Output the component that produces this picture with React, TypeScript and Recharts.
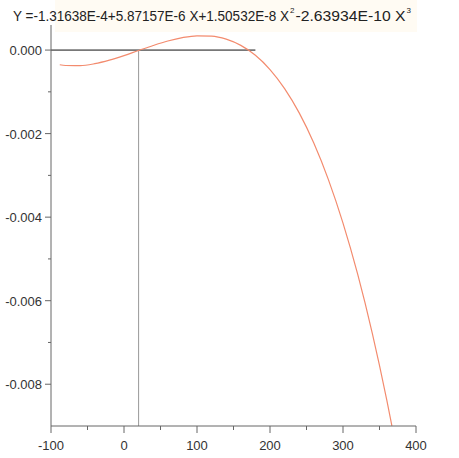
import React from "react";
import { LineChart, Line, XAxis, YAxis, ReferenceLine } from "recharts";

// points
const xValues = [-88, -80, -60, -40, -20, 0, 20, 40, 60, 80, 100, 120, 140, 160, 180, 200, 220, 240, 260, 280, 300, 320, 340, 360, 367];
const yValues = [
  -0.000352, -0.00037, -0.000373, -0.000326, -0.000241, -0.000132, -0.0000103, 0.00011, 0.000218, 0.000299,
  0.000342, 0.000334, 0.000261, 0.000112, -0.000126, -0.000467, -0.000922, -0.001504, -0.002226, -0.003101,
  -0.004142, -0.00536, -0.006769, -0.008381, -0.008996,
];

const xTicks = [-100, -50, 0, 50, 100, 150, 200, 250, 300, 350, 400];
const xLabelled = [-100, 0, 100, 200, 300, 400];
const yTicks = [0, -0.001, -0.002, -0.003, -0.004, -0.005, -0.006, -0.007, -0.008];
const yLabelled = [0, -0.002, -0.004, -0.006, -0.008];

const hLineSegment = [{ x: -100, y: 0 }, { x: 180, y: 0 }];
const vLineSegment = [{ x: 20, y: 0 }, { x: 20, y: -0.009 }];

const data = xValues.map((x, i) => ({ x, y: yValues[i] }));

const axisColor = "#666";
const font = "'Liberation Sans', Arial, sans-serif";

function XTick(props: any) {
  const { x, y, payload } = props;
  const major = xLabelled.includes(payload.value);
  return (
    <g>
      <line x1={x} x2={x} y1={y} y2={y + (major ? 7 : 4)} stroke={axisColor} strokeWidth={1} />
      {major && (
        <text x={x} y={y + 24} textAnchor="middle" fontSize={13} fill="#333" fontFamily={font}>
          {payload.value}
        </text>
      )}
    </g>
  );
}

function YTick(props: any) {
  const { x, y, payload } = props;
  const v = Math.round(payload.value * 1e6) / 1e6;
  const major = yLabelled.some((t) => Math.abs(t - v) < 1e-9);
  return (
    <g>
      <line x1={x} x2={x - (major ? 6 : 3)} y1={y} y2={y} stroke={axisColor} strokeWidth={1} />
      {major && (
        <text x={x - 9} y={y + 5} textAnchor="end" fontSize={13} fill="#333" fontFamily={font}>
          {v.toFixed(3)}
        </text>
      )}
    </g>
  );
}

export default function App() {
  return (
    <div style={{ position: "absolute", left: 0, top: 0, width: 459, height: 458, background: "#fff" }}>
      <div style={{ position: "absolute", left: 55, top: 0, width: 362, height: 32, background: "#fffbf3" }} />
      <svg width={459} height={32} style={{ position: "absolute", left: 0, top: 0 }}>
        <text x={13} y={21} fontSize={15} fill="#222" fontFamily={font}>
          <tspan textLength={276} lengthAdjust="spacingAndGlyphs">Y =-1.31638E-4+5.87157E-6 X+1.50532E-8 X</tspan>
          <tspan fontSize={8} dx={1} dy={-8}>2</tspan>
          <tspan dx={1} dy={8} textLength={110} lengthAdjust="spacingAndGlyphs">-2.63934E-10 X</tspan>
          <tspan fontSize={8} dx={1} dy={-8}>3</tspan>
        </text>
      </svg>
      <div style={{ position: "absolute", left: 0, top: 0 }}>
        <LineChart width={459} height={458} data={data} margin={{ top: 25, right: 43, bottom: 0, left: 0 }}>
          <XAxis
            dataKey="x"
            type="number"
            domain={[-100, 400]}
            ticks={xTicks}
            interval={0}
            tick={<XTick />}
            tickLine={false}
            tickSize={0}
            tickMargin={0}
            axisLine={{ stroke: axisColor }}
            height={32}
          />
          <YAxis
            type="number"
            domain={[-0.009, 0.0006]}
            ticks={yTicks}
            interval={0}
            tick={<YTick />}
            tickLine={false}
            tickSize={0}
            tickMargin={0}
            axisLine={{ stroke: axisColor }}
            width={51}
            allowDataOverflow
          />
          <ReferenceLine segment={vLineSegment} stroke="#999" strokeWidth={1} />
          <ReferenceLine segment={hLineSegment} stroke="#111" strokeWidth={1} />
          <Line
            dataKey="y"
            type="monotone"
            stroke="#f38b6e"
            strokeWidth={1.2}
            dot={false}
            isAnimationActive={false}
          />
        </LineChart>
      </div>
    </div>
  );
}
